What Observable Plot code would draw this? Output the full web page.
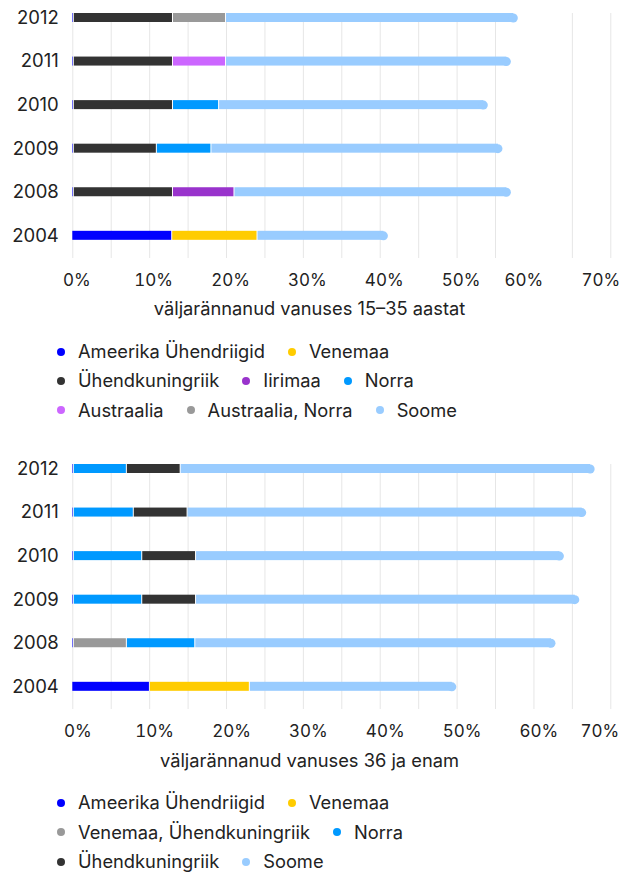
<!DOCTYPE html>
<html><head><meta charset="utf-8">
<script src="https://cdn.jsdelivr.net/npm/d3@7"></script>
<script src="https://cdn.jsdelivr.net/npm/@observablehq/plot@0.6"></script>
<style>
body{margin:0;background:#fff;font-family:Inter, "Open Sans", sans-serif;color:#222;}
#page{position:relative;width:624px;height:874px;overflow:hidden;}
.chart{position:absolute;left:0;}
.chart svg{overflow:visible;}
.title{position:absolute;left:0;width:619px;text-align:center;font-size:18.3px;line-height:24px;color:#222;}
.legend{position:absolute;left:57px;width:450px;display:flex;flex-wrap:wrap;font-size:18.3px;line-height:29.3px;color:#222;}
.item{display:flex;align-items:center;margin-right:23px;white-space:nowrap;}
.dot{width:8px;height:8px;border-radius:50%;margin-right:13px;flex:none;}
</style></head><body><div id="page"></div>
<script>
const years = ["2012","2011","2010","2009","2008","2004"];

// Chart 1: väljarännanud vanuses 15–35 aastat (values in %)
const youngCountries = ["Ameerika Ühendriigid","Venemaa","Ühendkuningriik","Iirimaa","Norra","Austraalia","Austraalia, Norra","Soome"];
const youngColors    = ["#0000ff","#ffcc00","#333333","#9933cc","#0099ff","#cc66ff","#999999","#99ccff"];
const youngUSA       = [0.2, 0.2, 0.2, 0.2, 0.2, 13.0];
const youngRussia    = [0,   0,   0,   0,   0,   11.1];
const youngUK        = [12.9,12.9,12.9,10.8,12.9,0];
const youngIreland   = [0,   0,   0,   0,   8.0, 0];
const youngNorway    = [0,   0,   6.0, 7.1, 0,   0];
const youngAustralia = [0,   6.9, 0,   0,   0,   0];
const youngAusNor    = [6.9, 0,   0,   0,   0,   0];
const youngFinland   = [37.9,37.0,34.9,37.8,35.9,16.9];
const youngSeries = [youngUSA,youngRussia,youngUK,youngIreland,youngNorway,youngAustralia,youngAusNor,youngFinland];

// Chart 2: väljarännanud vanuses 36 ja enam (values in %)
const olderCountries = ["Ameerika Ühendriigid","Venemaa","Venemaa, Ühendkuningriik","Norra","Ühendkuningriik","Soome"];
const olderColors    = ["#0000ff","#ffcc00","#999999","#0099ff","#333333","#99ccff"];
const olderUSA       = [0.2, 0.2, 0.2, 0.2, 0.2, 10.1];
const olderRussia    = [0,   0,   0,   0,   0,   13.0];
const olderRusUK     = [0,   0,   0,   0,   6.9, 0];
const olderNorway    = [6.9, 7.8, 8.9, 8.9, 8.9, 0];
const olderUK        = [7.0, 7.0, 7.0, 7.0, 0,   0];
const olderFinland   = [53.8,51.8,47.8,49.8,46.8,26.8];
const olderSeries = [olderUSA,olderRussia,olderRusUK,olderNorway,olderUK,olderFinland];

// axis ticks
const topGridTicks = [0,5,10,15,20,25,30,35,40,45,50,55,65,70];
const topLabelsA = [0,10,20,30,40,50];
const topLabelsB = [60,70];
const bottomGridTicks = [0,5,10,15,20,25,30,35,40,45,50,55,60,65,70];
const bottomLabelsA = [0,10,20,30,40,50,60];
const bottomLabelsB = [70];

function segments(countries, series) {
  const segs = [];
  years.forEach((year, i) => {
    let cum = 0;
    countries.forEach((country, j) => {
      const v = series[j][i];
      if (v > 0) segs.push({year, country, x1: cum, x2: cum + v, last: j === countries.length - 1});
      cum += v;
    });
  });
  return segs;
}

function makeChart(countries, colors, series, gridTicks, labelsA, dxA, labelsB, dxB) {
  const segs = segments(countries, series);
  const tf = d => d + "%";
  return Plot.plot({
    width: 624, height: 290,
    marginLeft: 72.3, marginRight: 13.7, marginTop: 13, marginBottom: 32,
    style: {fontFamily: "Inter, 'Open Sans', sans-serif", background: "#fff", color: "#222"},
    x: {domain: [0, 70], axis: null},
    y: {type: "band", domain: years, paddingInner: 0.7934, paddingOuter: 0.2088, align: 0, round: false, axis: null},
    color: {domain: countries, range: colors},
    marks: [
      Plot.ruleX(gridTicks, {x: d => d, stroke: "#e6e6e6", strokeWidth: 1}),
      Plot.barX(segs.filter(d => !d.last), {x1: "x1", x2: "x2", y: "year", fill: "country", insetRight: 1}),
      Plot.barX(segs.filter(d => d.last), {x1: "x1", x2: "x2", y: "year", fill: "country", insetRight: 4}),
      Plot.dot(segs.filter(d => d.last), {x: "x2", y: "year", r: 4.5, dx: -4.5, fill: "country", stroke: null}),
      Plot.axisY({tickSize: 0, tickPadding: 14, fontSize: 18.5, fill: "#222", label: null}),
      Plot.axisX({ticks: labelsA, tickFormat: tf, tickSize: 0, tickPadding: 15, dx: dxA, fontSize: 17, fill: "#222", label: null}),
      Plot.axisX({ticks: labelsB, tickFormat: tf, tickSize: 0, tickPadding: 15, dx: dxB, fontSize: 17, fill: "#222", label: null})
    ]
  });
}

function legend(countries, colors, top) {
  const el = document.createElement("div");
  el.className = "legend";
  el.style.top = top + "px";
  countries.forEach((c, i) => {
    const it = document.createElement("div");
    it.className = "item";
    const dot = document.createElement("span");
    dot.className = "dot";
    dot.style.background = colors[i];
    const t = document.createElement("span");
    t.textContent = c;
    it.appendChild(dot); it.appendChild(t);
    el.appendChild(it);
  });
  return el;
}

function title(text, top) {
  const el = document.createElement("div");
  el.className = "title";
  el.style.top = top + "px";
  el.textContent = text;
  return el;
}

const page = document.getElementById("page");
const c1 = document.createElement("div"); c1.className = "chart"; c1.style.top = "0px";
c1.appendChild(makeChart(youngCountries, youngColors, youngSeries, topGridTicks, topLabelsA, 4, topLabelsB, -10));
page.appendChild(c1);
page.appendChild(title("väljarännanud vanuses 15–35 aastat", 295.7));
page.appendChild(legend(youngCountries, youngColors, 337));

const c2 = document.createElement("div"); c2.className = "chart"; c2.style.top = "451px";
c2.appendChild(makeChart(olderCountries, olderColors, olderSeries, bottomGridTicks, bottomLabelsA, 5, bottomLabelsB, -11));
page.appendChild(c2);
page.appendChild(title("väljarännanud vanuses 36 ja enam", 748));
page.appendChild(legend(olderCountries, olderColors, 788.4));
</script>
</body></html>
